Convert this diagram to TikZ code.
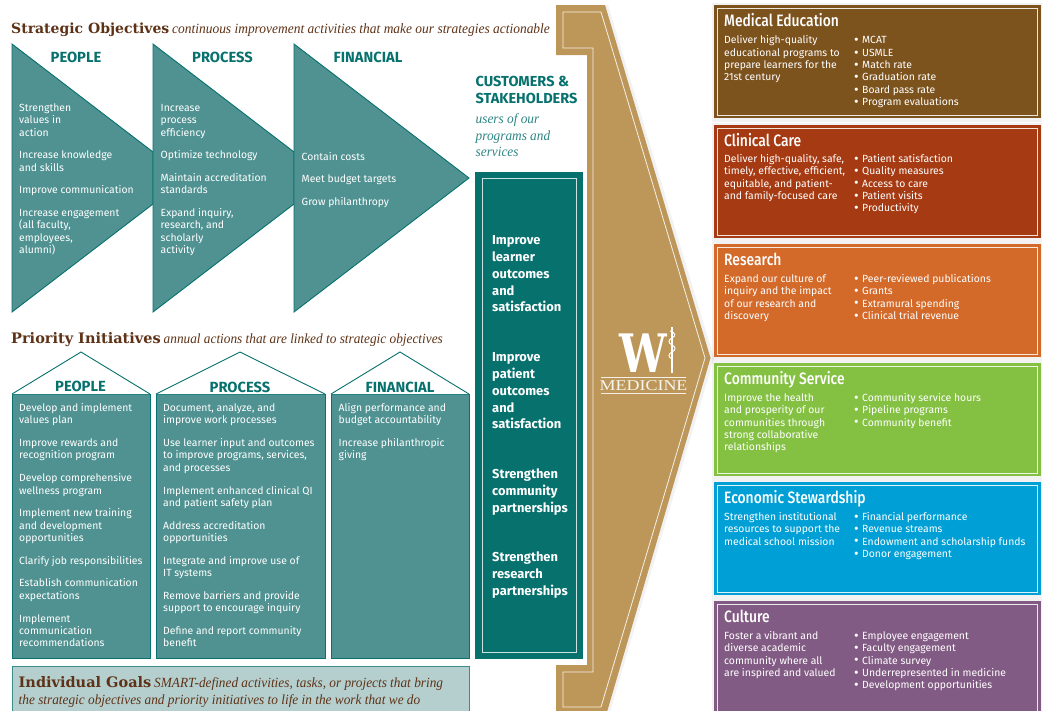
\documentclass[tikz,border=0pt]{standalone}
\usepackage{fontspec}
\setmainfont{Fira Sans}
\newfontfamily\headserif{DejaVu Serif}
\newfontfamily\itserif[FakeStretch=0.95]{Liberation Serif}
\newfontfamily\condsans[FakeStretch=0.84,BoldFont={Fira Sans Medium}]{Fira Sans}
\newfontfamily\logow[FakeStretch=0.8]{DejaVu Serif}
\newfontfamily\logom[FakeStretch=1.2]{Liberation Serif}
\definecolor{tealdark}{HTML}{07716E}
\definecolor{tealmid}{HTML}{4F9291}
\definecolor{teallight}{HTML}{B5CFCF}
\definecolor{headbrown}{HTML}{5E3216}
\definecolor{gold}{HTML}{BD9759}
\definecolor{cmed}{HTML}{7C521D}
\definecolor{cclin}{HTML}{A63A12}
\definecolor{cres}{HTML}{D36A2A}
\definecolor{ccom}{HTML}{84C143}
\definecolor{ceco}{HTML}{00A0D6}
\definecolor{ccul}{HTML}{825B84}
\newcommand\fl{\rule{0pt}{10pt}}
\newcommand\bb{\makebox[8pt][l]{\raisebox{-0.9pt}[0pt][0pt]{\fontsize{14}{12}\selectfont\textbullet}}}
\tikzset{
  shapefill/.style={fill=tealmid,draw=tealdark,line width=0.9pt,line join=miter},
  head/.style={inner sep=0,anchor=base west,text=headbrown,font=\fontsize{14.5}{18}\headserif\bfseries},
  headit/.style={inner sep=0,anchor=base west,text=headbrown,font=\fontsize{14}{18}\itserif\itshape},
  caps/.style={inner sep=0,anchor=base,text=tealdark,font=\fontsize{14.7}{16}\selectfont\bfseries},
  body/.style={inner sep=0,anchor=north west,text=white,align=left,font=\fontsize{10.4}{12.4}\selectfont},
  bigbody/.style={inner sep=0,anchor=north west,text=white,align=left,font=\fontsize{12.9}{16.7}\selectfont\bfseries},
  boxtitle/.style={inner sep=0,anchor=base west,text=white,font=\fontsize{16.5}{18}\condsans\bfseries},
  custcaps/.style={inner sep=0,anchor=base west,text=tealdark,font=\fontsize{14.5}{16}\selectfont\bfseries},
  hairline/.style={draw=white,line width=0.9pt},
}
\newcommand\outbox[5]{%
  % name, top y, bottom y, colour, title
  \fill[black,opacity=0.05] (712,#2-2) rectangle (1042,#3+4);
  \path[fill=#4] (714,#2) rectangle (1041,#3);
  \path[hairline,draw=white!85!#4] (717.5,#2+3) rectangle (1037.5,#3-3);
  \node[boxtitle] (#1) at (724,#2+21) {#5};
}
\begin{document}
\begin{tikzpicture}[x=1pt,y=-1pt]
\useasboundingbox (0,0) rectangle (1042,710);
\fill[white] (0,0) rectangle (1042,710);
\begin{scope}
\clip (0,0) rectangle (1042,710);

% ---- headings
\node[head,font=\fontsize{14}{18}\headserif\bfseries] (h1) at (11,33) {Strategic Objectives};
\node[headit,font=\fontsize{14.15}{18}\itserif\itshape] (h1i) at (172,33) {continuous improvement activities that make our strategies actionable};
\node[head] (h2) at (11,343) {Priority Initiatives};
\node[headit] (h2i) at (163.5,343) {annual actions that are linked to strategic objectives};

% ---- chevrons
\path[shapefill] (12,44) -- (153,152) -- (153,204) -- (12,312) -- cycle;
\path[shapefill] (153,44) -- (294,152) -- (294,204) -- (153,312) -- cycle;
\path[shapefill] (294,44) -- (469,178) -- (294,312) -- cycle;
\node[caps] (c1) at (76,62) {PEOPLE};
\node[caps] (c2) at (222.5,62) {PROCESS};
\node[caps] (c3) at (368,62) {FINANCIAL};
\node[body] (c1t) at (19,101) {\fl Strengthen\\values in\\action\\[10.2pt]Increase knowledge\\and skills\\[10.2pt]Improve communication\\[10.2pt]Increase engagement\\(all faculty,\\employees,\\alumni)};
\node[body] (c2t) at (160.5,101) {\fl Increase\\process\\efficiency\\[10.2pt]Optimize technology\\[10.2pt]Maintain accreditation\\standards\\[10.2pt]Expand inquiry,\\research, and\\scholarly\\activity};
\node[body] (c3t) at (301.5,150) {\fl Contain costs\\[10.2pt]Meet budget targets\\[10.2pt]Grow philanthropy};

% ---- houses
\path[shapefill] (12,394) rectangle (150,658);
\path[shapefill] (156,394) rectangle (325,658);
\path[shapefill] (331,394) rectangle (469,658);
\path[fill=white,draw=tealdark,line width=0.9pt] (12,394) -- (81,352) -- (150,394);
\path[fill=white,draw=tealdark,line width=0.9pt] (156,394) -- (240,352) -- (325,394);
\path[fill=white,draw=tealdark,line width=0.9pt] (331,394) -- (400,352) -- (469,394);
\node[caps] (p1) at (80.5,391) {PEOPLE};
\node[caps] (p2) at (240,392) {PROCESS};
\node[caps] (p3) at (400,392) {FINANCIAL};
\node[body] (p1t) at (19,401.2) {\fl Develop and implement\\values plan\\[10.3pt]Improve rewards and\\recognition program\\[10.3pt]Develop comprehensive\\wellness program\\[10.3pt]Implement new training\\and development\\opportunities\\[10.3pt]Clarify job responsibilities\\[10.3pt]Establish communication\\expectations\\[10.3pt]Implement\\communication\\recommendations};
\node[body] (p2t) at (163,401.2) {\fl Document, analyze, and\\improve work processes\\[10.3pt]Use learner input and outcomes\\to improve programs, services,\\and processes\\[10.3pt]Implement enhanced clinical QI\\and patient safety plan\\[10.3pt]Address accreditation\\opportunities\\[10.3pt]Integrate and improve use of\\IT systems\\[10.3pt]Remove barriers and provide\\support to encourage inquiry\\[10.3pt]Define and report community\\benefit};
\node[body] (p3t) at (338.5,401.2) {\fl Align performance and\\budget accountability\\[10.3pt]Increase philanthropic\\giving};

% ---- individual goals
\path[fill=teallight,draw=tealdark!80,line width=0.9pt] (12,666) rectangle (469,720);
\node[head] (g1) at (18.5,687) {Individual Goals};
\node[headit] (g1i) at (154,687) {SMART-defined activities, tasks, or projects that bring};
\node[headit] (g2i) at (18.5,704) {the strategic objectives and priority initiatives to life in the work that we do};

% ---- customers
\node[custcaps] (cu1) at (475.5,86) {CUSTOMERS \&};
\node[custcaps] (cu2) at (475.5,103) {STAKEHOLDERS};
\node[inner sep=0,anchor=north west,align=left,text=tealdark!85,font=\fontsize{14}{16.6}\itserif\itshape] (cu3) at (475.5,113.5) {\rule{0pt}{10pt}users of our\\programs and\\services};
\fill[tealdark] (475,172) rectangle (583,659);
\path[hairline,draw=white!80!tealdark] (482,178.5) rectangle (576,652);
\node[bigbody] (t1) at (492,234.7) {\fl Improve\\learner\\outcomes\\and\\satisfaction};
\node[bigbody] (t2) at (492,351.7) {\fl Improve\\patient\\outcomes\\and\\satisfaction};
\node[bigbody] (t3) at (492,468.7) {\fl Strengthen\\community\\partnerships};
\node[bigbody] (t4) at (492,551.7) {\fl Strengthen\\research\\partnerships};

% ---- gold arrow
\fill[black,opacity=0.05] (608,5) -- (714,358) -- (610,712) -- (600,712) -- (704,358) -- (600,5) -- cycle;
\path[fill=gold] (556,5) -- (605,5) -- (710.5,358) -- (607,712) -- (556,712) -- (556,665) -- (587,665) -- (587,55) -- (556,55) -- cycle;
\path[draw=white!85!gold,line width=0.8pt,line join=miter] (563,12) -- (601,12) -- (705,358) -- (601,707) -- (563,707) -- (563,672) -- (593,672) -- (593,48) -- (563,48) -- cycle;
\node[inner sep=0,anchor=base,text=white,font=\fontsize{53}{53}\logow\bfseries] (logowm) at (643,372.5) {W};
\path[draw=white,line width=1.1pt] (672,327) -- (672,373);
\path[draw=white,line width=1pt] (670,331) .. controls (676,333) and (676,336) .. (672,338) .. controls (668,340) and (668,343) .. (672,345) .. controls (676,347) and (676,350) .. (672,352) .. controls (668,354) and (668,357) .. (672,359);
\path[draw=white!85!gold,line width=0.9pt] (601,377.5) -- (686,377.5);
\path[draw=white!85!gold,line width=0.9pt] (601,393.5) -- (686,393.5);
\node[inner sep=0,anchor=base,text=white!90!gold,font=\fontsize{15}{15}\logom] (logomt) at (643.5,390.5) {MEDICINE};

% ---- outcome boxes
\outbox{o1}{5}{118}{cmed}{Medical Education}
\node[body] (o1a) at (724,33.5) {\fl Deliver high-quality\\educational programs to\\prepare learners for the\\21st century};
\node[body] (o1b) at (854,33.5) {\fl \bb MCAT\\\bb USMLE\\\bb Match rate\\\bb Graduation rate\\\bb Board pass rate\\\bb Program evaluations};

\outbox{o2}{125}{238}{cclin}{Clinical Care}
\node[body] (o2a) at (724,152) {\fl Deliver high-quality, safe,\\timely, effective, efficient,\\equitable, and patient-\\and family-focused care};
\node[body] (o2b) at (854,152) {\fl \bb Patient satisfaction\\\bb Quality measures\\\bb Access to care\\\bb Patient visits\\\bb Productivity};

\outbox{o3}{244}{357}{cres}{Research}
\node[body] (o3a) at (724,272) {\fl Expand our culture of\\inquiry and the impact\\of our research and\\discovery};
\node[body] (o3b) at (854,272) {\fl \bb Peer-reviewed publications\\\bb Grants\\\bb Extramural spending\\\bb Clinical trial revenue};

\outbox{o4}{363}{476}{ccom}{Community Service}
\node[body] (o4a) at (724,391) {\fl Improve the health\\and prosperity of our\\communities through\\strong collaborative\\relationships};
\node[body] (o4b) at (854,391) {\fl \bb Community service hours\\\bb Pipeline programs\\\bb Community benefit};

\outbox{o5}{482}{595}{ceco}{Economic Stewardship}
\node[body] (o5a) at (724,510) {\fl Strengthen institutional\\resources to support the\\medical school mission};
\node[body] (o5b) at (854,510) {\fl \bb Financial performance\\\bb Revenue streams\\\bb Endowment and scholarship funds\\\bb Donor engagement};

\outbox{o6}{601}{716}{ccul}{Culture}
\node[body] (o6a) at (724,629) {\fl Foster a vibrant and\\diverse academic\\community where all\\are inspired and valued};
\node[body] (o6b) at (854,629) {\fl \bb Employee engagement\\\bb Faculty engagement\\\bb Climate survey\\\bb Underrepresented in medicine\\\bb Development opportunities};
\end{scope}
\end{tikzpicture}
\end{document}
